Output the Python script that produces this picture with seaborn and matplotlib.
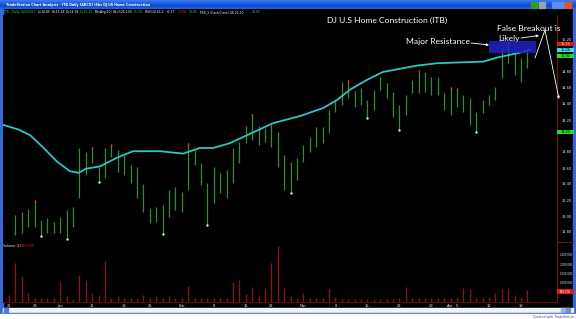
import numpy as np
import pandas as pd
import matplotlib
matplotlib.use("Agg")
import matplotlib.pyplot as plt
import matplotlib.transforms as mtransforms
from matplotlib.patches import Rectangle
import seaborn as sns

sns.set_style("dark")
plt.rcParams["font.family"] = ["DejaVu Sans"]

W, H = 576, 319
nan = np.nan

# ---------------- data ----------------
holidays = ["2009-12-25", "2010-01-01", "2010-01-18", "2010-02-15", "2010-04-02"]
trading_days = pd.bdate_range("2009-12-21", "2010-04-20")
trading_days = trading_days[~trading_days.isin(pd.to_datetime(holidays))]

highs = [nan,
         13.01, 13.05, 13.09, 13.20, 12.95, 12.98, 12.93, 12.99, 13.08, 13.11,
         13.85, 13.80, 13.86, 13.61, 13.85, 13.90, 13.83, 13.76, 13.64, 13.61,
         13.40, 13.10, 13.11, 13.14, 13.33, 13.36, 13.30, 13.91, 13.83, 13.66,
         13.41, 13.61, 13.54, 13.58, 13.85, 13.93, 14.13, 14.28, 14.13, 14.10,
         14.14, 14.05, 13.76, 13.68, 13.73, 13.89, 13.99, 14.11, 14.11, 14.33,
         14.45, 14.68, 14.70, 14.56, 14.60, 14.45, 14.58, 14.74, 14.66, 14.55,
         14.39, 14.51, 14.70, 14.83, 14.80, 14.74, 14.74, 14.54, 14.61, 14.60,
         14.51, 14.48, 14.30, 14.45, 14.51, 14.61, 15.10, 15.18, 15.04, 14.98, 15.08]
lows = [nan,
        12.76, 12.79, 12.86, 12.86, 12.75, 12.79, 12.79, 12.79, 12.71, 12.86,
        13.23, 13.51, 13.66, 13.43, 13.48, 13.74, 13.55, 13.51, 13.41, 13.23,
        13.05, 12.91, 12.93, 12.78, 12.99, 13.08, 13.05, 13.33, 13.64, 13.39,
        12.89, 13.16, 13.29, 13.23, 13.41, 13.66, 13.91, 13.95, 13.89, 13.93,
        13.86, 13.61, 13.33, 13.29, 13.45, 13.68, 13.80, 13.86, 13.91, 14.04,
        14.30, 14.39, 14.48, 14.36, 14.39, 14.23, 14.33, 14.58, 14.48, 14.24,
        14.08, 14.26, 14.54, 14.54, 14.55, 14.51, 14.51, 14.33, 14.26, 14.36,
        14.30, 14.14, 14.05, 14.29, 14.39, 14.45, 14.73, 14.91, 14.76, 14.68, 14.85]
volume_mil = [0.37, 2.05, 1.37, 0.47, 0.21, 0.21, 0.21, 0.21, 1.05, 0.32,
              0.15, 1.42, 1.16, 0.47, 0.37, 2.16, 0.21, 0.32, 0.21, 0.21,
              0.21, 0.37, 0.21, 0.32, 0.21, 0.32, 0.21, 0.21, 0.84, 0.21,
              0.21, 0.21, 0.21, 0.21, 0.21, 1.05, 1.16, 0.42, 0.79, 0.32,
              0.74, 2.05, 2.95, 0.74, 0.32, 0.21, 0.47, 0.21, 0.21, 0.21,
              0.68, 0.26, 0.15, 0.15, 0.18, 0.18, 0.18, 0.18, 0.18, 0.18,
              0.18, 0.21, 0.79, 0.21, 0.21, 0.21, 0.21, 0.21, 0.21, 0.21,
              0.26, 0.74, 0.68, 0.26, 0.26, 0.26, 0.47, 0.68, 0.74, 0.37, 0.26, 0.63]
red_top_bars = [4, 13, 16, 28, 38, 41, 53, 64, 69, 70]
low_dot_bars = [5, 9, 14, 24, 31, 44, 56, 61, 73]

ma_pos = [-0.94, 1.5, 3.3, 5.3, 7.5, 9.5, 10.9, 12.0, 14.2, 16.9, 19.4, 23.6, 27.2, 29.8, 31.9,
          34.5, 37.2, 41.25, 45.5, 49.1, 51.25, 53.3, 55.9, 58.4, 63.75, 66.9,
          74.1, 76.25, 80.3, 81.4]
ma_val = [14.14, 14.08, 14.01, 13.86, 13.68, 13.56, 13.54, 13.59, 13.62, 13.73, 13.81, 13.81, 13.78,
          13.85, 13.85, 13.91, 14.01, 14.16, 14.25, 14.35, 14.45, 14.58, 14.70, 14.80,
          14.88, 14.91, 14.93, 14.98, 15.05, 15.08]

price_ticks = [12.8, 13.0, 13.2, 13.4, 13.6, 13.8, 14.2, 14.4, 14.6, 14.8, 15.2]
volume_ticks = [1.0, 1.5, 2.0, 2.5]

resistance_lo, resistance_hi = 15.04, 15.19
resistance_from, resistance_to = 75.0, 82.3

axis_flags = [(15.15, "15.15", "#e01818", "white"),
              (15.075, "15.08", "#38e0e0", "black"),
              (15.00, "15.00", "#22e022", "black"),
              (14.05, "14.05", "#22e022", "black")]
volume_flag = (0.53, "526,100")

# ---------------- figure ----------------
fig = plt.figure(figsize=(W / 100, H / 100), dpi=100, facecolor="black")


def frac(x0, y0, x1, y1):
    return [x0 / W, 1 - y1 / H, (x1 - x0) / W, (y1 - y0) / H]


bg = fig.add_axes([0, 0, 1, 1], zorder=0)
bg.set_facecolor("black")
grad = np.linspace(0, 1, 20).reshape(-1, 1)
cmap = matplotlib.colors.LinearSegmentedColormap.from_list(
    "xp", ["#3a7df0", "#1f5fe0", "#0a48d0", "#2a63d8"])
bg.imshow(grad, extent=[0, W, 9, 0], aspect="auto", cmap=cmap)
bg.add_patch(Rectangle((0, 9), 3, 305, color="#3768d8"))
bg.add_patch(Rectangle((573, 9), 3, 305, color="#3768d8"))
bg.add_patch(Rectangle((3, 307.5), 570, 5, color="#f2f2f2"))
bg.add_patch(Rectangle((3.5, 308), 4, 4, color="#4a7be0"))
bg.add_patch(Rectangle((561, 308), 4, 4, color="#9ab4ea"))
bg.add_patch(Rectangle((566, 308), 4, 4, color="#6f93e0"))
bg.add_patch(Rectangle((0, 312.5), W, 1.5, color="#3768d8"))
bg.add_patch(Rectangle((0, 314), W, 5, color="white"))
for x0, c in [(531, "#2aa02a"), (539, "#9aa0a8"), (552, "#5b8cf0"), (558, "#5b8cf0"), (565, "#e0502a")]:
    bg.add_patch(Rectangle((x0, 2), 6, 5.5, color=c))
bg.plot([556.5, 556.5], [15, 302], color="#7a1010", lw=0.8)
bg.plot([556.5, 573], [242, 242], color="#7a1010", lw=0.8)
bg.plot([3, 556.5], [302, 302], color="#5a0c0c", lw=0.8)
bg.text(6, 5, "TradeStation Chart Analysis - ITB Daily [ARCX] iShs DJ US Home Construction",
        color="white", fontsize=2.4, va="center", ha="left", fontweight="bold")
info = [(4, "ITB - Daily", "#3ecf3e"), (21, "4/20/2010", "#3ecf3e"), (38, "L=14.85", "white"),
        (52, "H=15.18", "white"), (66, "O=14.98", "white"), (80, "C=15.15", "#3ecf3e"),
        (95, "MovAvg(20)", "white"), (113, "Vol=526,100", "white"), (134, "15.08", "#3ecf3e"),
        (145, "RSI(14) 61.2", "white"), (166, "+0.17", "white"), (178, "1.13%", "#e03030"),
        (189, "14.05", "#3ecf3e"), (200, "PSS_2 (Cash/Close) 06.22.10", "white"),
        (252, "14.05", "#3ecf3e")]
for x0, s, c in info:
    bg.text(x0, 12.2, s, color=c, fontsize=2.2, va="center", ha="left")
bg.text(574, 316.6, "Created with TradeStation", color="#555555", fontsize=2.3,
        va="center", ha="right")
bg.set_xlim(0, W)
bg.set_ylim(H, 0)
bg.axis("off")

ax_p = fig.add_axes(frac(3, 15, 556.5, 242), zorder=2)
ax_v = fig.add_axes(frac(3, 242, 556.5, 302), zorder=2, sharex=ax_p)

idx = np.arange(len(trading_days))
hi = np.array(highs)
lo = np.array(lows)

for ax in (ax_p, ax_v):
    ax.set_facecolor("black")
    for s in ax.spines.values():
        s.set_visible(False)
    ax.grid(False)

ax_p.vlines(idx, lo, hi, color="#1f9a1f", lw=0.85, zorder=3)
rt = np.array(red_top_bars)
ax_p.vlines(rt, hi[rt] - 0.035, hi[rt], color="#e03a20", lw=1.0, zorder=4)
ld = np.array(low_dot_bars)
sns.scatterplot(x=ld, y=lo[ld], ax=ax_p, color="#b8ffb8", s=3, linewidth=0, zorder=4)
sns.lineplot(x=ma_pos, y=ma_val, ax=ax_p, sort=False, estimator=None,
             color="#2cc6c0", lw=1.3, zorder=5)

ax_p.add_patch(Rectangle((resistance_from, resistance_lo), resistance_to - resistance_from,
                         resistance_hi - resistance_lo, facecolor="#2222c8", alpha=0.85,
                         edgecolor="none", zorder=6))

ax_p.set_xlim((3 - 9) / 6.4, (556.5 - 9) / 6.4)
ax_p.set_ylim(12.675, 15.5125)
ax_p.yaxis.tick_right()
ax_p.set_yticks(price_ticks)
ax_p.set_yticklabels([f"{t:.2f}" for t in price_ticks])
ax_p.tick_params(axis="y", length=0, pad=4, labelsize=2.6, labelcolor="#e8e8e8")
ax_p.tick_params(axis="x", length=0, labelbottom=False)
ax_p.set_xlabel("")
ax_p.set_ylabel("")

blend_p = mtransforms.blended_transform_factory(ax_p.transAxes, ax_p.transData)
for val, txt, fc, tc in axis_flags:
    ax_p.add_patch(Rectangle((1.0015, val - 0.031), 0.030, 0.062, transform=blend_p,
                             facecolor=fc, edgecolor="none", clip_on=False, zorder=7))
    ax_p.text(1.0165, val, txt, transform=blend_p, color=tc, fontsize=2.4,
              ha="center", va="center", clip_on=False, zorder=8)

ax_v.vlines(idx, 0, volume_mil, color="#8c1212", lw=0.95)
ax_v.set_ylim(0, 60 / 19)
ax_v.yaxis.tick_right()
ax_v.set_yticks(volume_ticks)
ax_v.set_yticklabels([f"{int(v * 1e6):,}" for v in volume_ticks])
ax_v.tick_params(axis="y", length=0, pad=2.5, labelsize=2.0, labelcolor="#e8e8e8")

tick_pos, tick_lab = [], []
prev = None
for i, d in enumerate(trading_days):
    if prev is None:
        tick_pos.append(i); tick_lab.append(str(d.day))
    elif d.month != prev.month:
        tick_pos.append(i); tick_lab.append(d.strftime("%b"))
    elif d.isocalendar().week != prev.isocalendar().week:
        tick_pos.append(i); tick_lab.append(str(d.day))
    prev = d
ax_v.set_xticks(tick_pos)
ax_v.set_xticklabels(tick_lab)
ax_v.tick_params(axis="x", length=0, pad=1.2, labelsize=2.6, labelcolor="#e8e8e8")
ax_v.set_xlabel("")
ax_v.set_ylabel("")

blend_v = mtransforms.blended_transform_factory(ax_v.transAxes, ax_v.transData)
ax_v.add_patch(Rectangle((1.0015, volume_flag[0] - 0.13), 0.030, 0.26, transform=blend_v,
                         facecolor="#e01818", edgecolor="none", clip_on=False, zorder=7))
ax_v.text(1.0165, volume_flag[0], volume_flag[1], transform=blend_v, color="white",
          fontsize=2.0, ha="center", va="center", clip_on=False, zorder=8)
ax_v.text(0.0, 0.97, "Volume (L)", transform=ax_v.transAxes, color="#e8e8e8",
          fontsize=2.4, ha="left", va="top")
ax_v.text(0.032, 0.97, f"{int(volume_mil[-1] * 1e6):,}", transform=ax_v.transAxes,
          color="#d02020", fontsize=2.4, ha="left", va="top")

# ---------------- annotations overlay ----------------
ov = fig.add_axes([0, 0, 1, 1], zorder=10)
ov.patch.set_alpha(0)
ov.set_xlim(0, W)
ov.set_ylim(H, 0)
ov.axis("off")
ann_font = dict(color="white", fontsize=6.1, family=["Lato", "DejaVu Sans"], va="center", ha="left")
ov.text(327, 20, "DJ U.S Home Construction (ITB)", **ann_font)
ov.text(406, 41.5, "Major Resistance", **ann_font)
ov.text(497, 28.5, "False Breakout is", **ann_font)
ov.text(498, 38.5, "Likely", **ann_font)
arr = dict(arrowstyle="-|>", color="white", lw=0.6, mutation_scale=3.5, shrinkA=0, shrinkB=0)
ov.annotate("", xy=(489, 45), xytext=(471, 43), arrowprops=arr)
ov.annotate("", xy=(539, 35.5), xytext=(521, 38), arrowprops=arr)
ov.plot([535, 545], [58, 30], color="white", lw=0.6)
ov.annotate("", xy=(559, 99), xytext=(545, 30), arrowprops=arr)

fig.savefig("out.png", dpi=100, facecolor="black")
